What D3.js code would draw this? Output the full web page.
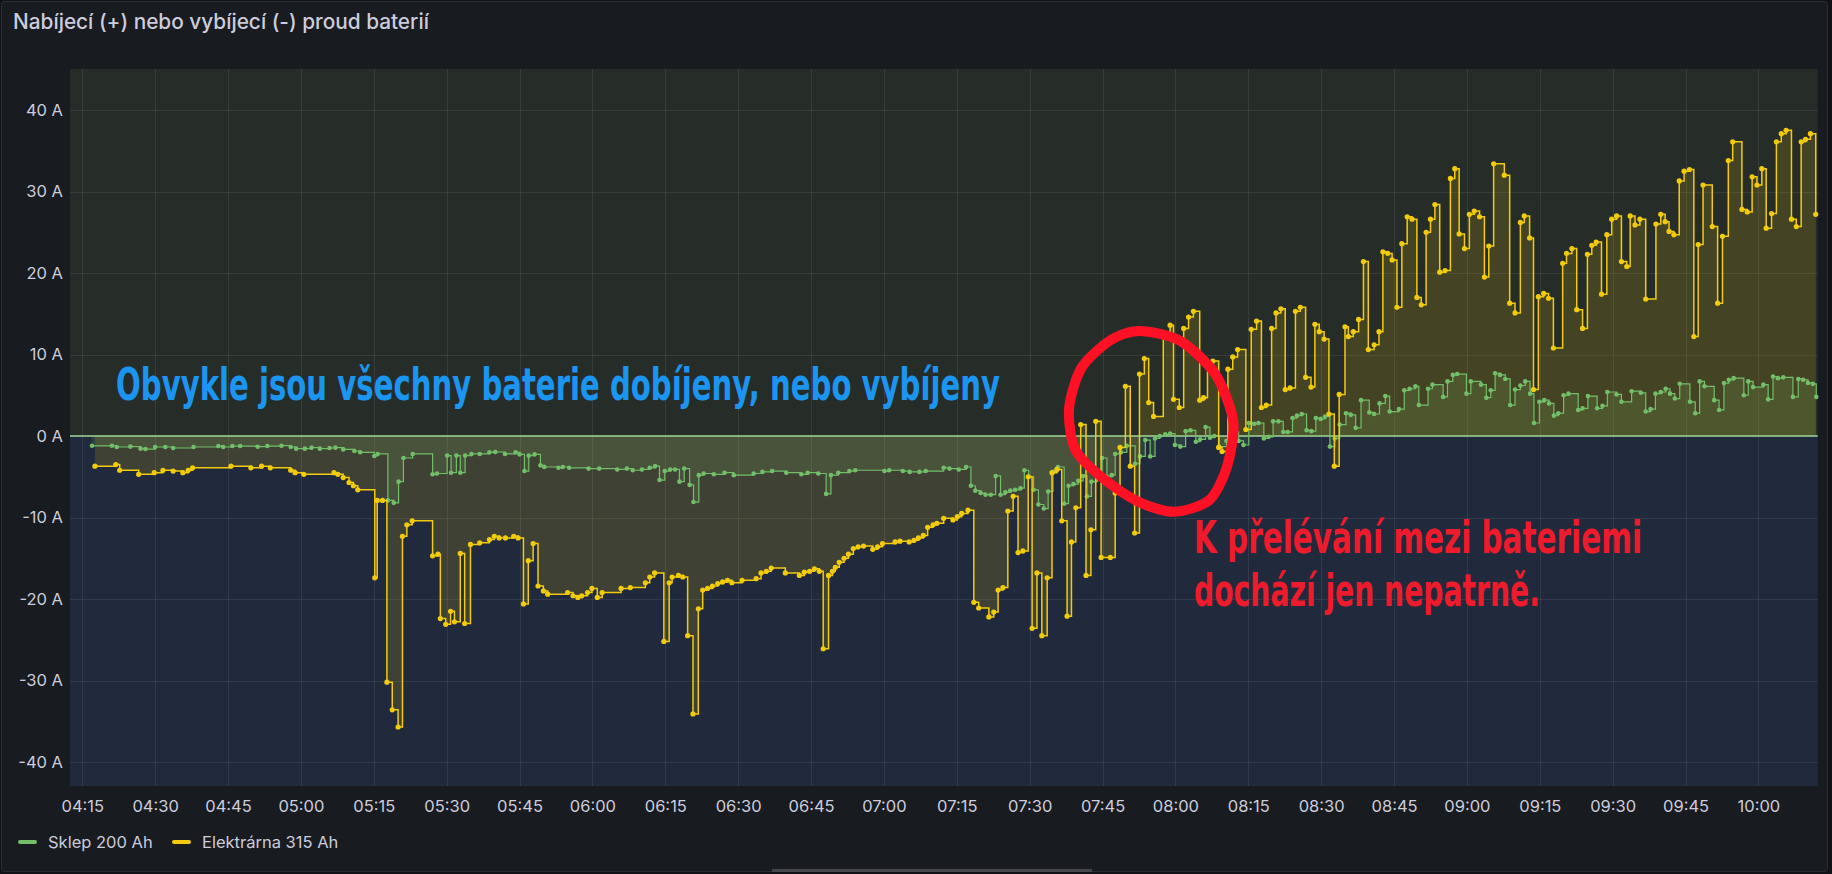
<!DOCTYPE html>
<html><head><meta charset="utf-8">
<script src="https://cdn.jsdelivr.net/npm/d3@7"></script>
<style>
html,body{margin:0;padding:0;background:#111217;overflow:hidden;}
svg{display:block;}
</style></head><body>
<svg id="c" width="1832" height="874"></svg>
<script>
// ---------------- DATA ----------------
const title = "Nabíjecí (+) nebo vybíjecí (-) proud baterií";
const seriesNames = ["Sklep 200 Ah", "Elektrárna 315 Ah"];
const baseTime = [4, 15];               // minutes below are counted from 04:15
const rangeMinutes = [-2.53, 357.2];    // dashboard time range (04:12:28 – 10:12:12)
const yTicks = [-40, -30, -20, -10, 0, 10, 20, 30, 40];
const xTickLabels = ["04:15","04:30","04:45","05:00","05:15","05:30","05:45","06:00","06:15","06:30","06:45","07:00",
  "07:15","07:30","07:45","08:00","08:15","08:30","08:45","09:00","09:15","09:30","09:45","10:00"];

// Sklep 200 Ah – minutes after 04:15 and current (A)
const sklepMin = [2.0,6.1,7.1,9.9,12.0,13.0,15.0,17.1,18.7,22.9,28.0,29.0,30.9,32.5,36.1,38.1,41.0,42.9,44.0,45.8,47.2,48.9,50.9,52.1,53.7,56.0,57.2,60.1,60.8,62.9,64.1,65.1,66.1,68.0,72.1,73.0,75.1,75.9,77.0,77.8,78.8,80.1,81.8,83.8,85.0,87.0,89.2,90.0,91.0,91.9,93.1,94.3,95.1,98.0,98.9,100.2,104.2,106.4,110.1,112.1,113.3,115.2,116.8,117.9,118.8,119.9,121.0,122.0,122.9,123.9,125.0,125.8,126.9,127.9,130.0,132.2,134.1,138.2,140.0,142.0,144.9,148.0,149.3,151.5,153.1,154.1,155.6,157.9,159.1,165.1,166.1,168.9,170.3,172.3,173.6,177.3,178.5,180.4,181.9,182.9,183.8,184.9,185.9,187.0,188.0,189.0,190.0,191.0,192.0,193.1,193.9,194.8,195.8,196.8,197.9,198.8,199.8,200.8,202.1,203.0,204.0,205.0,206.0,206.8,207.7,208.9,209.9,210.9,211.9,212.6,213.8,215.0,216.7,217.7,218.8,219.8,220.8,221.8,222.9,223.9,224.9,226.0,227.1,228.1,229.2,230.1,231.2,232.1,233.0,234.0,235.5,236.8,238.0,239.0,240.1,241.2,242.1,243.2,244.2,245.1,246.2,247.2,248.1,249.1,250.0,251.0,252.0,253.0,253.9,254.9,255.8,256.8,257.8,258.8,260.1,261.1,262.1,263.2,264.9,265.9,267.0,268.2,269.1,271.0,272.1,273.2,274.4,275.1,277.0,277.9,280.1,281.0,282.1,283.0,284.9,285.8,287.9,289.0,289.9,290.8,291.8,292.9,293.9,294.9,296.0,297.0,298.0,298.8,299.9,300.9,301.9,302.9,303.8,304.9,305.9,307.9,308.8,309.9,311.8,312.9,313.9,315.8,316.8,318.9,320.8,321.8,322.8,323.8,324.9,325.9,326.8,327.8,328.8,330.9,332.0,332.9,333.9,335.9,336.9,337.9,338.9,339.9,342.0,342.9,343.9,346.0,347.0,348.0,349.0,350.1,352.1,353.2,354.2,355.2,356.2,356.9];
const sklepA = [-1.2,-1.2,-1.35,-1.3,-1.55,-1.6,-1.35,-1.35,-1.47,-1.35,-1.23,-1.35,-1.23,-1.23,-1.31,-1.23,-1.19,-1.35,-1.55,-1.55,-1.43,-1.55,-1.47,-1.43,-1.64,-1.84,-2.0,-2.45,-2.2,-7.9,-8.2,-5.6,-2.7,-2.2,-4.7,-4.6,-2.4,-4.5,-2.4,-4.5,-2.4,-2.2,-2.2,-2.0,-1.96,-2.2,-2.0,-2.25,-4.3,-2.4,-2.25,-3.6,-3.8,-3.9,-3.8,-3.9,-4.0,-4.0,-4.1,-4.0,-4.2,-4.1,-3.9,-3.7,-5.4,-4.3,-4.1,-4.1,-5.6,-4.0,-6.0,-8.1,-4.8,-4.6,-4.7,-4.5,-4.8,-4.6,-4.4,-4.3,-4.5,-4.7,-4.5,-4.6,-7.1,-4.8,-4.5,-4.3,-4.2,-4.3,-4.2,-4.3,-4.4,-4.4,-4.3,-3.9,-4.0,-4.1,-3.8,-6.1,-6.7,-7.0,-7.2,-7.2,-4.9,-7.2,-6.9,-6.7,-6.6,-6.4,-4.2,-5.0,-6.6,-8.4,-8.9,-6.8,-4.4,-3.8,-8.3,-6.1,-5.9,-5.5,-4.9,-7.4,-5.6,-5.2,-2.7,-5.0,-4.8,-2.2,-2.0,-1.2,-3.4,-2.5,-0.5,-2.5,-0.3,0.0,0.2,0.3,-1.1,-1.3,0.6,0.7,-0.7,-0.4,1.1,-0.2,0.0,-1.3,-0.6,0.5,-0.6,-1.1,1.6,1.5,1.6,-0.3,-0.1,1.8,1.8,0.5,0.5,2.2,2.5,2.7,0.7,0.6,2.2,2.1,2.4,-1.3,-0.3,1.4,2.8,2.6,1.0,4.4,2.9,2.7,4.0,4.9,3.0,3.3,5.6,5.8,6.1,3.8,5.8,6.3,4.8,6.7,7.5,7.6,5.2,6.7,6.3,4.7,5.6,7.7,7.5,7.0,3.8,5.7,6.2,6.7,5.2,1.6,4.2,4.4,4.0,2.5,2.8,5.0,5.2,3.2,3.4,4.9,3.4,3.7,5.4,5.1,4.2,5.5,5.3,3.0,3.3,5.2,5.4,5.8,5.2,4.6,6.4,4.2,2.8,6.7,6.1,4.4,3.2,6.5,6.9,7.1,5.0,6.7,6.0,6.3,4.5,7.3,7.1,7.2,4.8,7.0,6.9,6.5,6.4,4.8];

// Elektrárna 315 Ah – minutes after 04:15 and current (A)
const elekMin = [2.6,6.9,7.7,11.6,14.8,16.6,18.7,20.7,21.8,22.7,30.6,34.7,36.9,38.7,42.9,43.8,45.6,51.8,52.6,53.7,54.9,55.8,56.7,60.2,60.7,61.8,62.7,63.8,65.0,65.9,66.8,67.9,72.1,73.2,73.7,74.8,75.8,76.6,77.8,78.7,79.9,81.8,83.8,84.8,85.8,87.1,88.8,89.7,90.8,91.8,92.8,93.8,94.9,95.8,99.9,101.0,102.0,102.8,104.0,104.9,106.0,107.0,110.9,112.8,115.9,116.8,117.8,119.7,120.8,121.4,122.7,123.6,124.6,125.7,126.8,127.7,128.7,129.7,130.8,131.8,132.8,133.7,135.8,138.7,139.7,140.8,141.8,144.7,147.6,148.6,149.7,150.7,151.7,152.5,153.6,154.4,155.0,155.8,156.8,157.7,158.7,159.7,160.8,162.7,163.7,164.7,167.3,168.3,170.2,171.2,172.1,173.1,174.0,175.1,175.9,177.3,179.2,180.1,181.0,182.3,183.5,184.5,186.6,187.6,188.5,189.5,190.5,191.6,192.6,193.6,194.7,195.5,196.5,197.5,198.6,199.6,200.6,201.6,202.7,203.6,204.5,205.5,206.6,207.6,208.6,209.7,211.6,212.6,213.6,214.7,215.7,216.6,217.6,218.6,219.5,220.5,222.5,223.9,224.6,225.8,226.7,227.7,228.7,230.0,230.8,231.6,232.7,233.9,234.6,235.8,236.8,237.8,239.5,240.6,241.7,242.7,243.7,244.8,245.7,246.7,247.6,248.6,249.7,250.7,251.8,252.9,253.7,254.6,255.6,256.6,257.7,258.7,259.9,260.6,261.6,262.7,263.7,264.7,265.9,266.9,267.7,268.7,269.6,270.6,271.6,272.7,273.7,274.7,275.6,276.6,277.5,278.4,279.4,280.5,281.6,282.5,283.4,284.5,285.5,286.5,287.6,288.6,289.5,290.5,292.7,293.8,294.9,296.0,296.8,297.9,298.7,299.7,300.8,301.8,302.8,304.7,305.5,306.6,307.6,308.8,309.8,310.7,311.6,312.7,313.8,314.8,315.8,316.8,317.9,318.6,319.6,320.6,321.8,323.9,324.9,325.8,326.6,327.6,328.7,329.7,330.8,331.7,332.6,333.6,335.5,336.6,337.6,338.8,339.7,341.6,342.7,343.7,344.7,345.7,346.6,347.7,348.7,349.7,350.7,351.8,352.8,353.8,354.7,355.7,356.8];
const elekA = [-3.7,-3.5,-4.2,-4.7,-4.5,-4.2,-4.3,-4.5,-4.2,-3.9,-3.7,-3.9,-3.7,-3.9,-4.2,-4.5,-4.7,-4.5,-4.7,-5.1,-5.7,-6.1,-6.6,-17.4,-7.9,-7.9,-30.2,-33.6,-35.7,-12.3,-10.9,-10.4,-14.7,-14.5,-22.4,-23.1,-21.5,-22.8,-14.4,-23.0,-13.3,-13.1,-12.7,-12.3,-12.5,-12.5,-12.3,-12.5,-20.6,-15.3,-13.2,-18.4,-19.0,-19.4,-19.2,-19.6,-19.8,-19.6,-19.2,-18.7,-19.8,-19.2,-18.7,-18.6,-18.0,-17.3,-16.8,-25.2,-18.0,-17.3,-17.1,-17.3,-24.5,-34.1,-21.2,-18.9,-18.7,-18.4,-18.1,-17.9,-17.7,-18.0,-17.7,-17.5,-16.8,-16.6,-16.2,-16.8,-17.1,-16.7,-16.6,-16.3,-16.6,-26.1,-17.1,-16.6,-16.1,-15.5,-15.0,-14.5,-13.8,-13.6,-13.5,-13.9,-13.6,-13.2,-13.0,-12.9,-13.0,-12.8,-12.5,-12.2,-11.2,-10.9,-10.7,-10.1,-10.3,-9.9,-9.5,-9.1,-20.4,-21.1,-22.2,-21.6,-18.9,-18.6,-9.2,-7.4,-14.3,-14.1,-5.0,-23.6,-16.8,-24.5,-17.4,-4.5,-4.1,-10.4,-22.1,-13.0,-8.8,1.4,-17.1,-11.5,1.8,-14.9,-14.9,-7.0,-1.4,6.1,-3.7,-11.9,7.6,9.5,4.1,2.4,12.5,13.6,4.5,3.5,13.2,14.6,15.3,4.4,4.7,9.0,9.2,-1.4,-1.9,8.2,9.7,10.6,0.8,13.1,14.1,3.5,3.8,13.2,15.1,15.6,5.7,5.9,15.3,15.8,7.2,6.0,13.7,12.8,11.9,2.7,-3.7,5.1,13.4,12.2,12.8,14.3,21.4,10.6,11.2,12.8,22.6,22.4,21.6,15.8,23.6,26.9,26.6,17.0,16.1,25.0,26.6,28.4,20.1,20.3,31.6,32.8,24.8,23.0,27.2,27.6,26.9,19.5,23.3,33.4,32.0,16.3,15.1,26.2,27.0,24.3,5.7,17.1,17.5,16.9,10.8,21.2,22.4,23.0,15.5,13.2,22.3,23.4,23.8,17.4,24.7,26.6,27.0,21.4,20.8,27.0,25.9,26.6,16.8,26.0,27.2,26.3,25.1,24.7,31.3,32.5,32.7,12.2,23.5,30.8,25.7,16.3,24.5,33.8,36.1,27.8,27.5,31.8,30.8,32.8,25.5,27.3,36.1,37.1,37.5,26.6,25.7,36.1,36.4,37.1,27.2];

const noteBlue = "Obvykle jsou všechny baterie dobíjeny, nebo vybíjeny";
const noteRed = ["K přelévání mezi bateriemi", "dochází jen nepatrně."];

// ---------------- CHART ----------------
const W = 1832, H = 874;
const plot = {left: 70, right: 1817.7, top: 69, bottom: 786};
const svg = d3.select("#c");
const base = new Date(2024, 0, 1, baseTime[0], baseTime[1]);
const toDate = m => new Date(base.getTime() + m * 60000);

const x = d3.scaleTime().domain(rangeMinutes.map(toDate)).range([plot.left, plot.right]);
const y = d3.scaleLinear().domain([-42.94, 45.03]).range([plot.bottom, plot.top]);

const sklep = sklepMin.map((m, i) => ({t: toDate(m), v: sklepA[i]}));
const elek = elekMin.map((m, i) => ({t: toDate(m), v: elekA[i]}));

// panel
svg.append("rect").attr("x", 1.5).attr("y", 1.5).attr("width", 1826).attr("height", 870)
  .attr("rx", 3).attr("fill", "#181b1f").attr("stroke", "#2b2e35").attr("stroke-width", 1);

svg.append("text").attr("x", 13).attr("y", 29).text(title)
  .attr("font-family", "Inter, 'Noto Sans', sans-serif").attr("font-weight", 500)
  .attr("font-size", 20.8).attr("fill", "#ccccdc");

// threshold regions
svg.append("rect").attr("x", plot.left).attr("y", plot.top).attr("width", plot.right - plot.left)
  .attr("height", y(0) - plot.top).attr("fill", "#262d29");
svg.append("rect").attr("x", plot.left).attr("y", y(0)).attr("width", plot.right - plot.left)
  .attr("height", plot.bottom - y(0)).attr("fill", "#202a3c");

// grid
const xTickDates = xTickLabels.map(s => { const [h, mm] = s.split(":").map(Number); return new Date(2024, 0, 1, h, mm); });
const grid = svg.append("g").attr("stroke", "rgba(204,204,220,0.10)").attr("stroke-width", 1);
grid.selectAll(".gx").data(xTickDates).join("line")
  .attr("x1", d => Math.round(x(d)) + 0.5).attr("x2", d => Math.round(x(d)) + 0.5)
  .attr("y1", plot.top).attr("y2", plot.bottom);
grid.selectAll(".gy").data(yTicks).join("line")
  .attr("y1", d => Math.round(y(d)) + 0.5).attr("y2", d => Math.round(y(d)) + 0.5)
  .attr("x1", plot.left).attr("x2", plot.right);

// axes
const axisFont = "Inter, 'Noto Sans', sans-serif";
const yAxis = svg.append("g").attr("transform", `translate(${plot.left - 4},0)`)
  .call(d3.axisLeft(y).tickValues(yTicks).tickSize(0).tickFormat(d => `${d} A`));
yAxis.select(".domain").remove();
yAxis.selectAll("text").attr("font-family", axisFont).attr("font-size", 16.5).attr("fill", "#ccccdc");

const xAxis = svg.append("g").attr("transform", `translate(0,${plot.bottom + 11})`)
  .call(d3.axisBottom(x).tickValues(xTickDates).tickSize(0).tickFormat(d3.timeFormat("%H:%M")));
xAxis.select(".domain").remove();
xAxis.selectAll("text").attr("font-family", axisFont).attr("font-size", 16.5).attr("fill", "#ccccdc");

// series
const colors = {sklep: "#73bf69", elek: "#f2cc0c"};
const area = d3.area().x(d => x(d.t)).y0(y(0)).y1(d => y(d.v)).curve(d3.curveStepAfter);
const line = d3.line().x(d => x(d.t)).y(d => y(d.v)).curve(d3.curveStepAfter);

svg.append("path").datum(sklep).attr("d", area).attr("fill", colors.sklep).attr("fill-opacity", 0.15);
svg.append("path").datum(elek).attr("d", area).attr("fill", colors.elek).attr("fill-opacity", 0.15);

// zero threshold line
svg.append("line").attr("x1", plot.left).attr("x2", plot.right).attr("y1", y(0)).attr("y2", y(0))
  .attr("stroke", "#9fd494").attr("stroke-opacity", 0.75).attr("stroke-width", 2);

svg.append("path").datum(sklep).attr("d", line).attr("fill", "none").attr("stroke", colors.sklep).attr("stroke-width", 1.2);
svg.append("g").selectAll("circle").data(sklep).join("circle")
  .attr("cx", d => x(d.t)).attr("cy", d => y(d.v)).attr("r", 2.3).attr("fill", colors.sklep);

svg.append("path").datum(elek).attr("d", line).attr("fill", "none").attr("stroke", colors.elek).attr("stroke-width", 1.5);
svg.append("g").selectAll("circle").data(elek).join("circle")
  .attr("cx", d => x(d.t)).attr("cy", d => y(d.v)).attr("r", 2.6).attr("fill", colors.elek);

// legend
const legend = svg.append("g").attr("transform", "translate(0,842)");
const legItems = [{name: seriesNames[0], c: colors.sklep, x: 18}, {name: seriesNames[1], c: colors.elek, x: 172}];
legItems.forEach(it => {
  legend.append("rect").attr("x", it.x).attr("y", -2).attr("width", 19).attr("height", 4).attr("rx", 2).attr("fill", it.c);
  legend.append("text").attr("x", it.x + 30).attr("y", 6).text(it.name)
    .attr("font-family", axisFont).attr("font-size", 16.5).attr("fill", "#ccccdc");
});

// bottom scrollbar hint
svg.append("rect").attr("x", 772).attr("y", 869).attr("width", 320).attr("height", 3).attr("fill", "#45474d");

// ---------------- ANNOTATIONS ----------------
const annFont = "'Liberation Sans Narrow', 'DejaVu Sans Condensed', 'Noto Sans', sans-serif";
svg.append("text").attr("x", 116).attr("y", 400).text(noteBlue)
  .attr("font-family", annFont).attr("font-weight", 700).attr("font-size", 44)
  .attr("textLength", 884).attr("lengthAdjust", "spacingAndGlyphs").attr("fill", "#1b95f0");

const redLens = [448, 346];
noteRed.forEach((s, i) => {
  svg.append("text").attr("x", 1194).attr("y", 553 + i * 53).text(s)
    .attr("font-family", annFont).attr("font-weight", 700).attr("font-size", 44)
    .attr("textLength", redLens[i]).attr("lengthAdjust", "spacingAndGlyphs").attr("fill", "#ee1b2c");
});

// hand drawn red loop, given in chart coordinates (minutes after 04:15, A)
const loop = [[217.5,12.9],[225.9,11.7],[233.2,7.6],[236.9,1.8],[235.6,-3.8],[231.9,-7.9],[224.7,-9.3],
  [217.5,-8.1],[210.3,-5.3],[204.4,-1.7],[203.1,3.3],[205.6,8.3],[211.5,11.7]];
svg.append("path").datum(loop)
  .attr("d", d3.line().x(d => x(toDate(d[0]))).y(d => y(d[1])).curve(d3.curveCardinalClosed.tension(0.2)))
  .attr("fill", "none").attr("stroke", "#ff1024").attr("stroke-width", 10).attr("stroke-linejoin", "round");
</script>
</body></html>
